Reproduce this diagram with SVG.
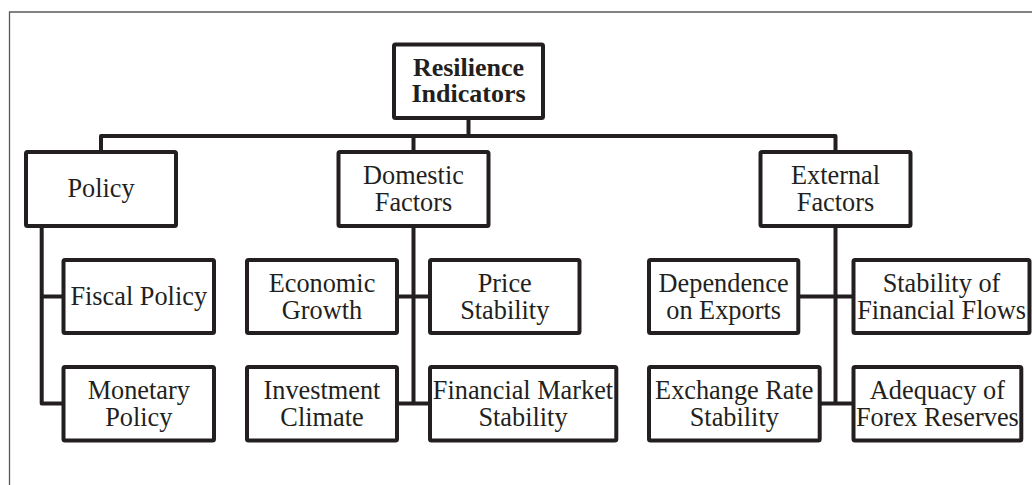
<svg xmlns="http://www.w3.org/2000/svg" width="1032" height="485" viewBox="0 0 1032 485">
<style>
.box{fill:#ffffff;stroke:#231f20;stroke-width:4;}
.t{font-family:"Liberation Serif","Times New Roman",serif;font-size:26.3px;fill:#231f20;text-anchor:middle;}
.b{font-weight:bold;font-size:26px;}
.c{fill:none;stroke:#231f20;stroke-width:4;stroke-linejoin:round;}
</style>
<rect x="0" y="0" width="1032" height="485" fill="#ffffff"/>
<path d="M9.5 485 V12 H1032" fill="none" stroke="#58595b" stroke-width="1.3"/>
<g id="connectors">
<path class="c" d="M468.5 118 V136"/>
<path class="c" d="M101 152 V136 H835.5 V152"/>
<path class="c" d="M413.5 136 V152"/>
<path class="c" d="M41.7 226 V403.5 H63.5"/>
<path class="c" d="M41.7 296.5 H63.5"/>
<path class="c" d="M413.5 226 V403.5"/>
<path class="c" d="M397 296.5 H430"/>
<path class="c" d="M397 403.5 H430"/>
<path class="c" d="M835.5 226 V403.5"/>
<path class="c" d="M798.3 296.5 H853.5"/>
<path class="c" d="M819.7 403.5 H853.5"/>
</g>
<g id="root">
<rect class="box" x="394" y="44.5" width="149" height="73.5" rx="1.5"/>
<text class="t b" x="468.5" y="75.5">Resilience</text>
<text class="t b" x="468.5" y="102">Indicators</text>
</g>
<g id="policy">
<rect class="box" x="26" y="152" width="150" height="74" rx="1.5"/>
<text class="t" x="101" y="197.3">Policy</text>
</g>
<g id="domestic">
<rect class="box" x="338.5" y="152" width="150" height="74" rx="1.5"/>
<text class="t" x="413.5" y="184">Domestic</text>
<text class="t" x="413.5" y="211.3">Factors</text>
</g>
<g id="external">
<rect class="box" x="760.5" y="152" width="150" height="74" rx="1.5"/>
<text class="t" x="835.5" y="184">External</text>
<text class="t" x="835.5" y="211.3">Factors</text>
</g>
<g id="fiscal">
<rect class="box" x="63.5" y="260" width="150.5" height="73" rx="1.5"/>
<text class="t" x="138.75" y="305.3">Fiscal Policy</text>
</g>
<g id="monetary">
<rect class="box" x="63.5" y="367" width="150.5" height="73.5" rx="1.5"/>
<text class="t" x="138.75" y="398.5">Monetary</text>
<text class="t" x="138.75" y="425.5">Policy</text>
</g>
<g id="economic">
<rect class="box" x="247" y="260" width="150" height="73" rx="1.5"/>
<text class="t" x="322" y="291.5">Economic</text>
<text class="t" x="322" y="318.5">Growth</text>
</g>
<g id="investment">
<rect class="box" x="247" y="367" width="150" height="73.5" rx="1.5"/>
<text class="t" x="322" y="398.5">Investment</text>
<text class="t" x="322" y="425.5">Climate</text>
</g>
<g id="price">
<rect class="box" x="430" y="260" width="149.5" height="73" rx="1.5"/>
<text class="t" x="504.75" y="291.5">Price</text>
<text class="t" x="504.75" y="318.5">Stability</text>
</g>
<g id="financialmarket">
<rect class="box" x="430" y="367" width="186.3" height="73.5" rx="1.5"/>
<text class="t" x="523" y="398.5">Financial Market</text>
<text class="t" x="523" y="425.5">Stability</text>
</g>
<g id="dependence">
<rect class="box" x="649" y="260" width="149.3" height="73" rx="1.5"/>
<text class="t" x="723.6" y="291.5">Dependence</text>
<text class="t" x="723.6" y="318.5">on Exports</text>
</g>
<g id="exchange">
<rect class="box" x="649" y="367" width="170.7" height="73.5" rx="1.5"/>
<text class="t" x="734.3" y="398.5">Exchange Rate</text>
<text class="t" x="734.3" y="425.5">Stability</text>
</g>
<g id="flows">
<rect class="box" x="853.5" y="260" width="176" height="73" rx="1.5"/>
<text class="t" x="941.5" y="291.5">Stability of</text>
<text class="t" x="941.5" y="318.5">Financial Flows</text>
</g>
<g id="forex">
<rect class="box" x="853.5" y="367" width="167.8" height="73.5" rx="1.5"/>
<text class="t" x="937.4" y="398.5">Adequacy of</text>
<text class="t" x="937.4" y="425.5">Forex Reserves</text>
</g>
</svg>
